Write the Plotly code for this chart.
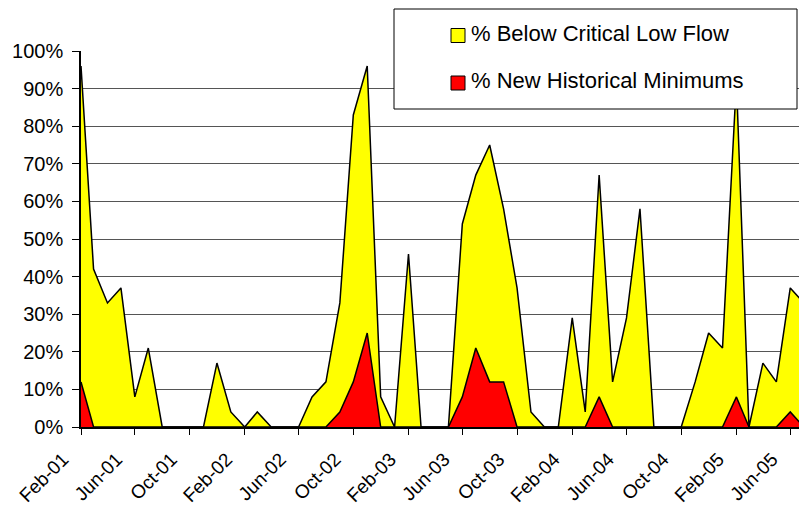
import pandas as pd
import plotly.graph_objects as go

# Monthly series, Feb 2001 onward (percent of gauges)
months = pd.date_range("2001-02-01", periods=54, freq="MS")
below_critical = [96, 42, 33, 37, 8, 21, 0, 0, 0, 0,
                  17, 4, 0, 4, 0, 0, 0, 8, 12, 33,
                  83, 96, 8, 0, 46, 0, 0, 0, 54, 67,
                  75, 58, 37, 4, 0, 0, 29, 4, 67, 12,
                  29, 58, 0, 0, 0, 12, 25, 21, 92, 0,
                  17, 12, 37, 33]
new_minimums = [12, 0, 0, 0, 0, 0, 0, 0, 0, 0,
                0, 0, 0, 0, 0, 0, 0, 0, 0, 4,
                12, 25, 0, 0, 0, 0, 0, 0, 8, 21,
                12, 12, 0, 0, 0, 0, 0, 0, 8, 0,
                0, 0, 0, 0, 0, 0, 0, 0, 8, 0,
                0, 0, 4, 0]
series_names = ["% Below Critical Low Flow", "% New Historical Minimums"]
series_colors = ["#FFFF00", "#FF0000"]
y_tick_values = list(range(0, 101, 10))
y_tick_labels = [f"{v}%" for v in y_tick_values]

FONT = "Arial, 'Liberation Sans', sans-serif"
W, H = 799, 507
ML, MR, MT, MB = 81, 0, 51, 80
PW, PH = W - ML - MR, H - MT - MB


def px_x(px):
    return (px - ML) / PW


def px_y(py):
    return (H - MB - py) / PH


fig = go.Figure()
for vals, name, color in zip([below_critical, new_minimums], series_names, series_colors):
    fig.add_trace(go.Scatter(
        x=months, y=vals, name=name, mode="lines",
        fill="tozeroy", fillcolor=color,
        line=dict(color="black", width=1.5),
        showlegend=False, hoverinfo="skip",
    ))

# Legend box drawn as shapes and text
shapes = [dict(type="rect", xref="paper", yref="paper",
               x0=px_x(394), x1=px_x(797), y0=px_y(109), y1=px_y(9),
               line=dict(color="black", width=1), fillcolor="white", layer="above")]
annotations = []
square_y = [35.5, 83]
text_y = [33, 80.5]
for name, color, sy, ty in zip(series_names, series_colors, square_y, text_y):
    shapes.append(dict(type="rect", xref="paper", yref="paper",
                       x0=px_x(451), x1=px_x(465), y0=px_y(sy + 7), y1=px_y(sy - 7),
                       line=dict(color="black", width=1), fillcolor=color, layer="above"))
    annotations.append(dict(text=name, xref="paper", yref="paper",
                            x=px_x(469), y=px_y(ty), xanchor="left", yanchor="middle",
                            showarrow=False, font=dict(family=FONT, size=22, color="black")))

fig.update_layout(
    width=W, height=H,
    margin=dict(l=ML, r=MR, t=MT, b=MB, pad=0, autoexpand=False),
    paper_bgcolor="white", plot_bgcolor="white",
    font=dict(family=FONT, size=20, color="black"),
    shapes=shapes, annotations=annotations,
    showlegend=False,
)
fig.update_xaxes(
    type="date", range=["2001-02-01", "2005-06-20 12:00"],
    tick0="2001-02-01", dtick="M4", tickformat="%b-%y", tickangle=-45,
    ticks="outside", ticklen=6, tickcolor="black", tickwidth=1,
    showline=True, linecolor="black", linewidth=1.5,
    showgrid=False, zeroline=False, automargin=False,
    tickfont=dict(family=FONT, size=19),
    ticklabelshift=-18, ticklabelstandoff=6, ticklabeloverflow="allow",
)
fig.update_yaxes(
    range=[0, 100], tickmode="array", tickvals=y_tick_values, ticktext=y_tick_labels,
    ticks="outside", ticklen=7, tickcolor="black", tickwidth=1,
    showline=True, linecolor="black", linewidth=1.5,
    showgrid=True, gridcolor="#555555", gridwidth=1, zeroline=False, automargin=False,
    tickfont=dict(family=FONT, size=20), ticklabelstandoff=5,
)

fig.write_html("out.html")
